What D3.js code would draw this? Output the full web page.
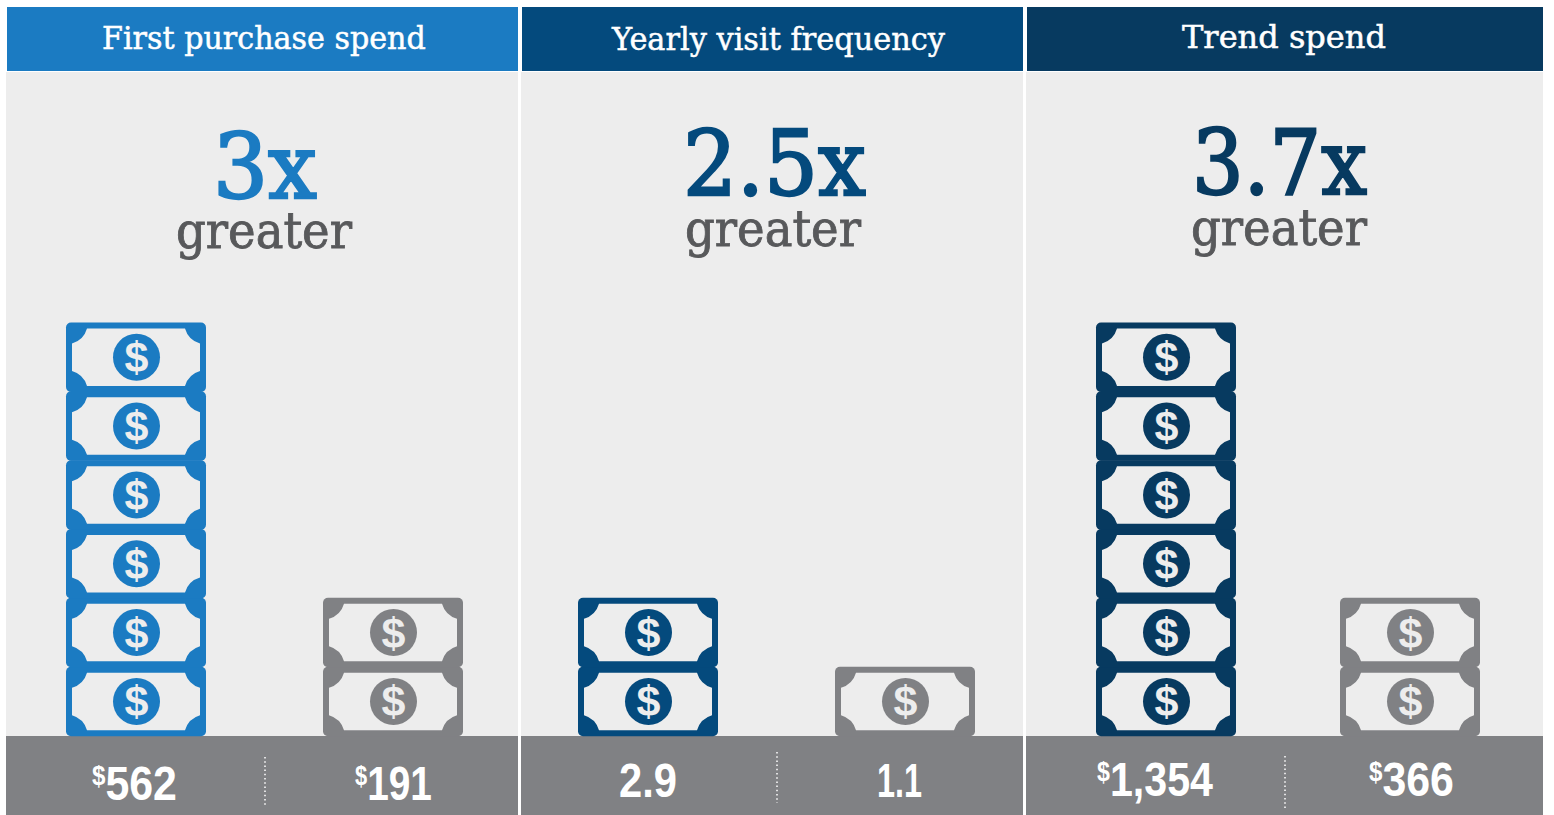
<!DOCTYPE html>
<html>
<head>
<meta charset="utf-8">
<script src="https://d3js.org/d3.v7.min.js"></script>
<style>
html, body { margin: 0; padding: 0; background: #fff; overflow: hidden; }
svg { display: block; }
.slab { font-family: "DejaVu Serif", serif; }
.num { font-family: "Liberation Sans Narrow", "Liberation Sans", sans-serif; font-weight: bold; }
</style>
</head>
<body>
<svg width="1554" height="815"></svg>
<script>
// data
var titles = ["First purchase spend", "Yearly visit frequency", "Trend spend"];
var multiples = ["3x", "2.5x", "3.7x"];
var valueLabels = [["562", "191"], ["2.9", "1.1"], ["1,354", "366"]];
var valueUnits = ["$", "", "$"];
var billCounts = [[6, 2], [2, 1], [6, 2]];
var panelColors = ["#1b7bc2", "#044a7d", "#073a60"];
var otherColor = "#808184";
var paper = "#ededed";

// layout, one entry per panel
var panelX = [[6, 518], [521, 1023], [1026, 1543]];
var billX = [[66, 323], [578, 835], [1096, 1340]];
var titleBox = [[102, 426, 49], [612, 945, 50], [1182, 1386, 48]];
var bigBox = [[213, 317, 198], [683, 866, 195], [1192, 1367, 194]];
var greaterBox = [[176, 352, 248], [685, 861, 246], [1191, 1367, 245]];
var labelBox = [
    [[92, 177, 800], [355, 432, 800]],
    [[619, 677, 797], [877, 922, 797]],
    [[1097, 1213, 796], [1369, 1454, 796]]
];
var dividers = [[265, 757, 807], [777, 752, 803], [1285, 756, 808]];

var billW = 140, billH = 69.5;

var svg = d3.select("svg");

var y = d3.scaleLinear()
    .domain([0, 6])
    .range([735.8, 322.8]);

// squeeze a text into the width it has in the picture
function fit(sel, box) {
    var w = sel.node().getComputedTextLength();
    sel.attr("transform", "translate(" + box[0] + "," + box[2] + ") scale(" + ((box[1] - box[0]) / w) + ",1)");
}

// corners are bitten out by a circle sitting on the outer corner of the bill
function billInner(w, h) {
    var m = 6, r = 22, c = 21;
    var x0 = m, x1 = w - m, y0 = m, y1 = h - m;
    return "M" + c + "," + y0 + "L" + (w - c) + "," + y0 +
        "A" + r + "," + r + " 0 0 0 " + x1 + "," + c +
        "L" + x1 + "," + (h - c) +
        "A" + r + "," + r + " 0 0 0 " + (w - c) + "," + y1 +
        "L" + c + "," + y1 +
        "A" + r + "," + r + " 0 0 0 " + x0 + "," + (h - c) +
        "L" + x0 + "," + c +
        "A" + r + "," + r + " 0 0 0 " + c + "," + y0 + "Z";
}

function drawBills(g, n, x, color) {
    var bill = g.selectAll("g.bill")
        .data(d3.range(n))
        .enter().append("g")
        .attr("class", "bill")
        .attr("transform", function (d) {
            return "translate(" + x + "," + (y(d + 1) - 0.3) + ")";
        });
    bill.append("rect")
        .attr("width", billW)
        .attr("height", billH)
        .attr("rx", 5)
        .attr("fill", color);
    bill.append("path")
        .attr("d", billInner(billW, billH))
        .attr("fill", paper);
    bill.append("circle")
        .attr("cx", billW / 2 + 0.5)
        .attr("cy", billH / 2)
        .attr("r", 23.5)
        .attr("fill", color);
    bill.append("text")
        .attr("class", "num")
        .attr("x", billW / 2 + 0.5)
        .attr("y", billH / 2 + 15)
        .attr("text-anchor", "middle")
        .attr("font-size", 43)
        .attr("fill", paper)
        .text("$");
}

titles.forEach(function (title, i) {
    var g = svg.append("g");
    var px = panelX[i];

    g.append("rect")
        .attr("x", px[0])
        .attr("y", 72)
        .attr("width", px[1] - px[0])
        .attr("height", 664)
        .attr("fill", paper);
    g.append("rect")
        .attr("x", px[0] + 1)
        .attr("y", 7)
        .attr("width", px[1] - px[0] - 1)
        .attr("height", 64)
        .attr("fill", panelColors[i]);
    g.append("rect")
        .attr("x", px[0])
        .attr("y", 736)
        .attr("width", px[1] - px[0])
        .attr("height", 79)
        .attr("fill", otherColor);

    // stroke thickens the serif text towards the heavier slab of the original
    g.append("text")
        .attr("class", "slab")
        .attr("font-size", 32)
        .attr("fill", "#fff")
        .attr("stroke", "#fff")
        .attr("stroke-width", 0.5)
        .text(title)
        .call(fit, titleBox[i]);

    g.append("text")
        .attr("class", "slab")
        .attr("font-size", 90)
        .attr("fill", panelColors[i])
        .attr("stroke", panelColors[i])
        .attr("stroke-width", 2.4)
        .text(multiples[i])
        .call(fit, bigBox[i]);

    g.append("text")
        .attr("class", "slab")
        .attr("font-size", 50)
        .attr("fill", "#58595b")
        .attr("stroke", "#58595b")
        .attr("stroke-width", 0.9)
        .text("greater")
        .call(fit, greaterBox[i]);

    billCounts[i].forEach(function (n, j) {
        drawBills(g.append("g"), n, billX[i][j], j == 0 ? panelColors[i] : otherColor);

        var label = g.append("text")
            .attr("class", "num")
            .attr("font-size", 48)
            .attr("fill", "#fff");
        if (valueUnits[i]) {
            label.append("tspan")
                .attr("font-size", 27)
                .attr("dy", -15)
                .text(valueUnits[i]);
            label.append("tspan")
                .attr("dy", 15)
                .text(valueLabels[i][j]);
        } else {
            label.text(valueLabels[i][j]);
        }
        label.call(fit, labelBox[i][j]);
    });

    g.append("line")
        .attr("x1", dividers[i][0])
        .attr("x2", dividers[i][0])
        .attr("y1", dividers[i][1])
        .attr("y2", dividers[i][2])
        .attr("stroke", "#fff")
        .attr("stroke-width", 1.5)
        .attr("stroke-dasharray", "1.5 2.7");
});
</script>
</body>
</html>
